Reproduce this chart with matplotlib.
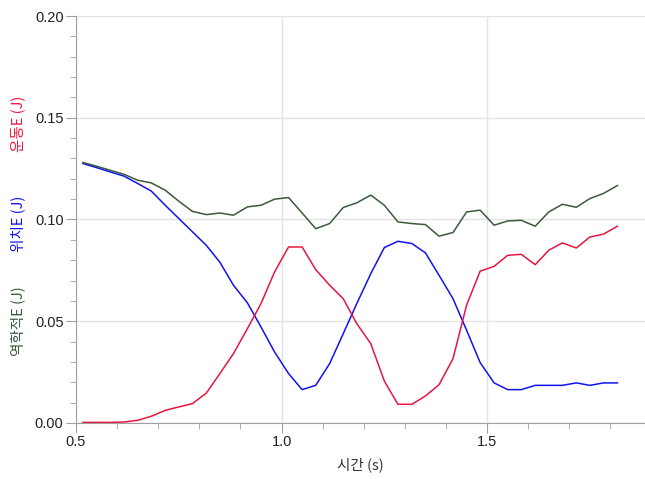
import matplotlib
matplotlib.use("Agg")
import matplotlib.pyplot as plt
from matplotlib.ticker import MultipleLocator

# time (s)
t = [0.517, 0.550, 0.583, 0.617, 0.650, 0.683, 0.717, 0.750, 0.783, 0.817,
     0.850, 0.883, 0.917, 0.950, 0.983, 1.017, 1.050, 1.083, 1.117, 1.150,
     1.183, 1.217, 1.250, 1.283, 1.317, 1.350, 1.383, 1.417, 1.450, 1.483,
     1.517, 1.550, 1.583, 1.617, 1.650, 1.683, 1.717, 1.750, 1.783, 1.817]

# kinetic energy (J)
kinetic = [0.0003, 0.0003, 0.0003, 0.0005, 0.0013, 0.0033, 0.0062, 0.0079, 0.0095, 0.0147,
           0.0243, 0.0341, 0.0464, 0.0587, 0.0742, 0.0865, 0.0865, 0.0754, 0.0677, 0.0611,
           0.0488, 0.0390, 0.0206, 0.0092, 0.0092, 0.0133, 0.0188, 0.0316, 0.0579, 0.0746,
           0.0770, 0.0824, 0.0829, 0.0778, 0.0849, 0.0885, 0.0860, 0.0914, 0.0928, 0.0967]

# potential energy (J)
potential = [0.1275, 0.1255, 0.1234, 0.1213, 0.1177, 0.1140, 0.1070, 0.1005, 0.0940, 0.0873,
             0.0790, 0.0677, 0.0590, 0.0472, 0.0349, 0.0243, 0.0164, 0.0185, 0.0292, 0.0439,
             0.0587, 0.0734, 0.0862, 0.0893, 0.0882, 0.0836, 0.0726, 0.0611, 0.0456, 0.0297,
             0.0197, 0.0164, 0.0164, 0.0185, 0.0185, 0.0185, 0.0197, 0.0185, 0.0197, 0.0197]

# mechanical energy (J)
mechanical = [0.1280, 0.1262, 0.1242, 0.1222, 0.1193, 0.1180, 0.1144, 0.1090, 0.1040, 0.1024,
              0.1032, 0.1021, 0.1062, 0.1070, 0.1100, 0.1108, 0.1032, 0.0955, 0.0980, 0.1059,
              0.1082, 0.1120, 0.1070, 0.0988, 0.0980, 0.0975, 0.0918, 0.0936, 0.1037, 0.1046,
              0.0972, 0.0993, 0.0996, 0.0967, 0.1037, 0.1075, 0.1060, 0.1103, 0.1128, 0.1167]

red = "#e8163f"
blue = "#1212f0"
green = "#3b5a3b"
kr = ["Noto Sans CJK KR", "DejaVu Sans"]

fig = plt.figure(figsize=(6.45, 4.79), dpi=100)
ax = fig.add_axes([76 / 645, 56 / 479, 569 / 645, 407 / 479])

ax.plot(t, potential, color=blue, lw=1.1)
ax.plot(t, kinetic, color=red, lw=1.1)
ax.plot(t, mechanical, color=green, lw=1.1)

ax.set_xlim(0.5, 1.884)
ax.set_ylim(0, 0.2)
ax.xaxis.set_major_locator(MultipleLocator(0.5))
ax.xaxis.set_minor_locator(MultipleLocator(0.1))
ax.yaxis.set_major_locator(MultipleLocator(0.05))
ax.yaxis.set_minor_locator(MultipleLocator(0.01))
ax.xaxis.set_major_formatter(lambda v, p: f"{v:.1f}")
ax.yaxis.set_major_formatter(lambda v, p: f"{v:.2f}")

ax.grid(True, which="major", color="#e4e4e4", lw=1)
ax.set_axisbelow(True)
for s in ["top", "right"]:
    ax.spines[s].set_visible(False)
for s in ["left", "bottom"]:
    ax.spines[s].set_color("#a0a0a0")
ax.tick_params(which="major", length=7, color="#a0a0a0", labelsize=10.5, pad=2)
ax.tick_params(which="minor", length=4, color="#a0a0a0")
for lab in ax.get_xticklabels() + ax.get_yticklabels():
    lab.set_family("Liberation Sans")
    lab.set_color("#222222")

ax.set_xlabel("시간 (s)", family=kr, fontsize=10.5, color="#333333", labelpad=6)

fig.text(18 / 645, 1 - 124 / 479, "운동E (J)", rotation=90, color=red,
         family=kr, fontsize=10.5, ha="center", va="center")
fig.text(18 / 645, 1 - 224 / 479, "위치E (J)", rotation=90, color=blue,
         family=kr, fontsize=10.5, ha="center", va="center")
fig.text(18 / 645, 1 - 321 / 479, "역학적E (J)", rotation=90, color=green,
         family=kr, fontsize=10.5, ha="center", va="center")

fig.savefig("out.png", dpi=100)
